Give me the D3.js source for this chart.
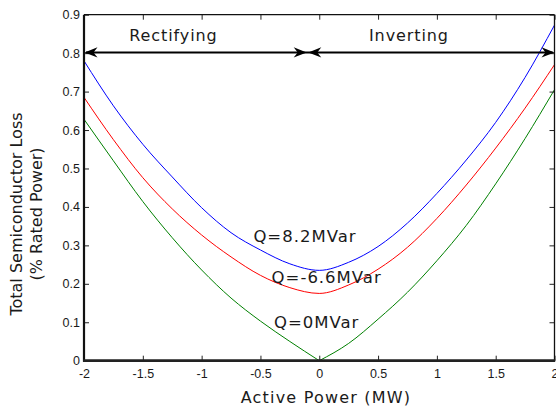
<!DOCTYPE html>
<html>
<head>
<meta charset="utf-8">
<script src="https://cdn.jsdelivr.net/npm/d3@7"></script>
<style>
  html, body { margin: 0; padding: 0; background: #fff; }
  svg { display: block; }
</style>
</head>
<body>
<svg id="chart" width="556" height="408"></svg>
<script>
// ---- data ----
const powerMW = [-2, -1.75, -1.5, -1.25, -1, -0.75, -0.5, -0.25, 0, 0.25, 0.5, 0.75, 1, 1.25, 1.5, 1.75, 2];
const lossQ82 = [0.780, 0.663, 0.563, 0.478, 0.398, 0.333, 0.288, 0.252, 0.235, 0.256, 0.297, 0.358, 0.435, 0.522, 0.620, 0.737, 0.873];
const lossQm66 = [0.685, 0.575, 0.476, 0.395, 0.327, 0.270, 0.222, 0.190, 0.175, 0.197, 0.238, 0.295, 0.370, 0.457, 0.553, 0.657, 0.770];
const lossQ0 = [0.628, 0.520, 0.414, 0.320, 0.236, 0.163, 0.103, 0.050, 0.000, 0.045, 0.108, 0.178, 0.260, 0.352, 0.460, 0.578, 0.705];
const seriesNames = ["Q=8.2MVar", "Q=-6.6MVar", "Q=0MVar"];
const xTicks = [-2, -1.5, -1, -0.5, 0, 0.5, 1, 1.5, 2];
const xTickLabels = ["-2", "-1.5", "-1", "-0.5", "0", "0.5", "1", "1.5", "2"];
const yTicks = [0, 0.1, 0.2, 0.3, 0.4, 0.5, 0.6, 0.7, 0.8, 0.9];
const yTickLabels = ["0", "0.1", "0.2", "0.3", "0.4", "0.5", "0.6", "0.7", "0.8", "0.9"];
const regionNames = ["Rectifying", "Inverting"];
const regionSplit = -0.1;   // where the two arrows meet (MW)
const arrowLevel = 0.802;   // height of the arrows (loss)
const labelAnchors = [[-0.56, 0.31], [-0.405, 0.203], [-0.385, 0.086]]; // [MW, loss] of text start

// ---- layout ----
const svg = d3.select("#chart");
const pL = 84, pR = 554.5, pT = 14.7, pB = 360.7;
const x = d3.scaleLinear().domain([-2, 2]).range([pL, pR]);
const y = d3.scaleLinear().domain([0, 0.9]).range([pB, pT]);
const textCol = "#1a1a1a";
const sans = "'DejaVu Sans', Verdana, sans-serif";
const tickFont = "'Liberation Sans', Arial, sans-serif";

svg.append("rect").attr("width", 556).attr("height", 408).attr("fill", "#fff");

// ---- curves ----
const colors = ["#0000ff", "#ff0000", "#008000"];
const allSeries = [lossQ82, lossQm66, lossQ0];
const line = d3.line().x(d => x(d[0])).y(d => y(d[1])).curve(d3.curveMonotoneX);
allSeries.forEach((vals, i) => {
  const pts = powerMW.map((p, k) => [p, vals[k]]);
  if (i === 2) {
    const l = pts.filter(d => d[0] <= 0), r = pts.filter(d => d[0] >= 0);
    [l, r].forEach(part => svg.append("path").attr("d", line(part))
      .attr("fill", "none").attr("stroke", colors[i]).attr("stroke-width", 1));
  } else {
    svg.append("path").attr("d", line(pts))
      .attr("fill", "none").attr("stroke", colors[i]).attr("stroke-width", 1);
  }
});

// ---- axes (box with inward ticks) ----
const tickLen = 5;
const gx = svg.append("g").attr("transform", `translate(0,${pB})`)
  .call(d3.axisBottom(x).tickValues(xTicks).tickSize(-tickLen).tickPadding(8)
    .tickFormat((d, i) => xTickLabels[i]));
const gxt = svg.append("g").attr("transform", `translate(0,${pT})`)
  .call(d3.axisTop(x).tickValues(xTicks).tickSize(-tickLen).tickFormat(""));
const gy = svg.append("g").attr("transform", `translate(${pL},0)`)
  .call(d3.axisLeft(y).tickValues(yTicks).tickSize(-tickLen).tickPadding(4)
    .tickFormat((d, i) => yTickLabels[i]));
const gyr = svg.append("g").attr("transform", `translate(${pR},0)`)
  .call(d3.axisRight(y).tickValues(yTicks).tickSize(-tickLen).tickFormat(""));
[gx, gxt, gy, gyr].forEach(g => {
  g.select(".domain").remove();
  g.selectAll(".tick line").attr("stroke", "#222").attr("stroke-width", 1);
  g.selectAll(".tick text").attr("fill", textCol).style("font-family", tickFont).style("font-size", "12.5px");
});
gx.selectAll(".tick text").attr("dy", "0.71em");
// frame
svg.append("line").attr("x1", pL).attr("x2", pR).attr("y1", pT).attr("y2", pT)
  .attr("stroke", "#111").attr("stroke-width", 1.3);
svg.append("line").attr("x1", pR).attr("x2", pR).attr("y1", pT).attr("y2", pB)
  .attr("stroke", "#111").attr("stroke-width", 1.3);
svg.append("line").attr("x1", pL).attr("x2", pL).attr("y1", pT).attr("y2", pB + 1)
  .attr("stroke", "#111").attr("stroke-width", 2.2);
svg.append("line").attr("x1", pL - 1).attr("x2", pR + 0.7).attr("y1", pB).attr("y2", pB)
  .attr("stroke", "#222").attr("stroke-width", 2.7);

// ---- arrows ----
const ay = y(arrowLevel);
svg.append("line").attr("x1", x(-2) + 2).attr("x2", x(2) - 2).attr("y1", ay).attr("y2", ay)
  .attr("stroke", "#000").attr("stroke-width", 2);
function head(tipX, dir) {
  const L = 13, H = 5.2, N = 9;
  return `M${tipX},${ay} L${tipX - dir * L},${ay - H} L${tipX - dir * N},${ay} L${tipX - dir * L},${ay + H} Z`;
}
const sx = x(regionSplit);
[[x(-2) + 0.5, -1], [sx - 0.8, 1], [sx + 0.8, -1], [x(2), 1]].forEach(([t, d]) =>
  svg.append("path").attr("d", head(t, d)).attr("fill", "#000"));

// region labels
svg.append("text").attr("x", 129.3).attr("y", 41).text(regionNames[0])
  .attr("fill", textCol).style("font-family", sans).style("font-size", "16px").style("letter-spacing", "0.9px");
svg.append("text").attr("x", 369).attr("y", 41).text(regionNames[1])
  .attr("fill", textCol).style("font-family", sans).style("font-size", "16px").style("letter-spacing", "0.9px");

// series labels
seriesNames.forEach((nm, i) => {
  svg.append("text").attr("x", x(labelAnchors[i][0])).attr("y", y(labelAnchors[i][1]))
    .text(nm).attr("fill", textCol)
    .style("font-family", sans).style("font-size", "16.5px").style("letter-spacing", "1px");
});

// axis titles
svg.append("text").attr("x", 326).attr("y", 403).attr("text-anchor", "middle")
  .text("Active Power (MW)").attr("fill", textCol)
  .style("font-family", sans).style("font-size", "16px").style("letter-spacing", "1.2px");
const yt = svg.append("text").attr("transform", "translate(22,214) rotate(-90)")
  .attr("text-anchor", "middle").attr("fill", textCol)
  .style("font-family", sans).style("font-size", "16px");
yt.append("tspan").attr("x", 0).attr("dy", 0).text("Total Semiconductor Loss");
yt.append("tspan").attr("x", 0).attr("dy", 20).text("(% Rated Power)");
</script>
</body>
</html>
